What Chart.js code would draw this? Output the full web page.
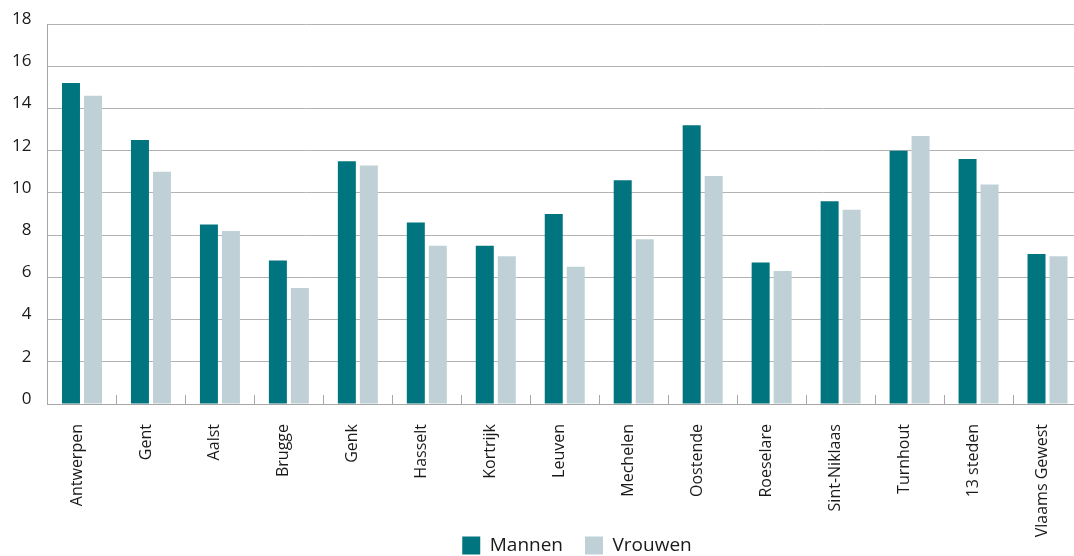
<!DOCTYPE html>
<html>
<head>
<meta charset="utf-8">
<script src="https://cdn.jsdelivr.net/npm/chart.js@4/dist/chart.umd.min.js"></script>
<style>
html,body{margin:0;padding:0;overflow:hidden;background:#fff;width:1074px;height:556px;}
#wrap{position:absolute;left:0;top:0;width:1154px;height:565px;}
</style>
</head>
<body>
<div id="wrap"><canvas id="c" width="1154" height="565"></canvas></div>
<script>
const categories = ["Antwerpen","Gent","Aalst","Brugge","Genk","Hasselt","Kortrijk","Leuven","Mechelen","Oostende","Roeselare","Sint-Niklaas","Turnhout","13 steden","Vlaams Gewest"];
const mannen  = [15.2,12.5,8.5,6.8,11.5,8.6,7.5,9.0,10.6,13.2,6.7,9.6,12.0,11.6,7.1];
const vrouwen = [14.6,11.0,8.2,5.5,11.3,7.5,7.0,6.5,7.8,10.8,6.3,9.2,12.7,10.4,7.0];
const yTicks = [0,2,4,6,8,10,12,14,16,18];

const innerTicks = {
  id:'innerTicks',
  afterLayout(chart){
    const x = chart.scales.x;
    x.bottom = x.top + 134;
    x.height = 134;
  },
  afterDatasetsDraw(chart){
    const x = chart.scales.x, ctx = chart.ctx, b = chart.chartArea.bottom;
    ctx.save();
    ctx.strokeStyle = '#a6a6a6';
    ctx.lineWidth = 1;
    for(let i=1;i<categories.length;i++){
      const px = Math.round((x.getPixelForValue(i-1)+x.getPixelForValue(i))/2)+0.5;
      ctx.beginPath();
      ctx.moveTo(px,b-9);
      ctx.lineTo(px,b);
      ctx.stroke();
    }
    ctx.restore();
  }
};

new Chart(document.getElementById('c'),{
  type:'bar',
  data:{
    labels:categories,
    datasets:[
      {label:'Mannen',data:mannen,backgroundColor:'#00757f',barPercentage:0.818,categoryPercentage:0.638},
      {label:'Vrouwen',data:vrouwen,backgroundColor:'#bfd1d6',barPercentage:0.818,categoryPercentage:0.638}
    ]
  },
  plugins:[innerTicks],
  options:{
    responsive:false,
    animation:false,
    layout:{padding:{left:0,right:0,top:24,bottom:0}},
    plugins:{
      legend:{
        position:'bottom',
        labels:{boxWidth:18,boxHeight:18,padding:22,color:'#1a1a1a',font:{family:'Open Sans',size:19}}
      },
      tooltip:{enabled:false}
    },
    scales:{
      x:{
        grid:{display:false},
        border:{display:true,color:'#a6a6a6',width:1},
        ticks:{maxRotation:90,minRotation:90,padding:12,labelOffset:-5,color:'#1a1a1a',font:{family:'Open Sans',size:16}},
        afterFit(s){ s.height = 110; }
      },
      y:{
        min:0,max:18,
        afterBuildTicks(s){ s.ticks = yTicks.map(v=>({value:v})); },
        grid:{color:'#b3b3b3',lineWidth:1,drawTicks:false},
        border:{display:true,color:'#a6a6a6',width:1},
        ticks:{padding:16,labelOffset:-5,color:'#1a1a1a',font:{family:'Open Sans',size:17}},
        afterFit(s){ s.width = 47.5; s.paddingTop = 0; s.paddingBottom = 0; }
      },
      yRight:{
        position:'right',
        grid:{display:false,drawOnChartArea:false},
        border:{display:false},
        ticks:{display:false},
        afterFit(s){ s.width = 72; s.paddingTop = 0; s.paddingBottom = 0; }
      }
    }
  }
});
</script>
</body>
</html>
